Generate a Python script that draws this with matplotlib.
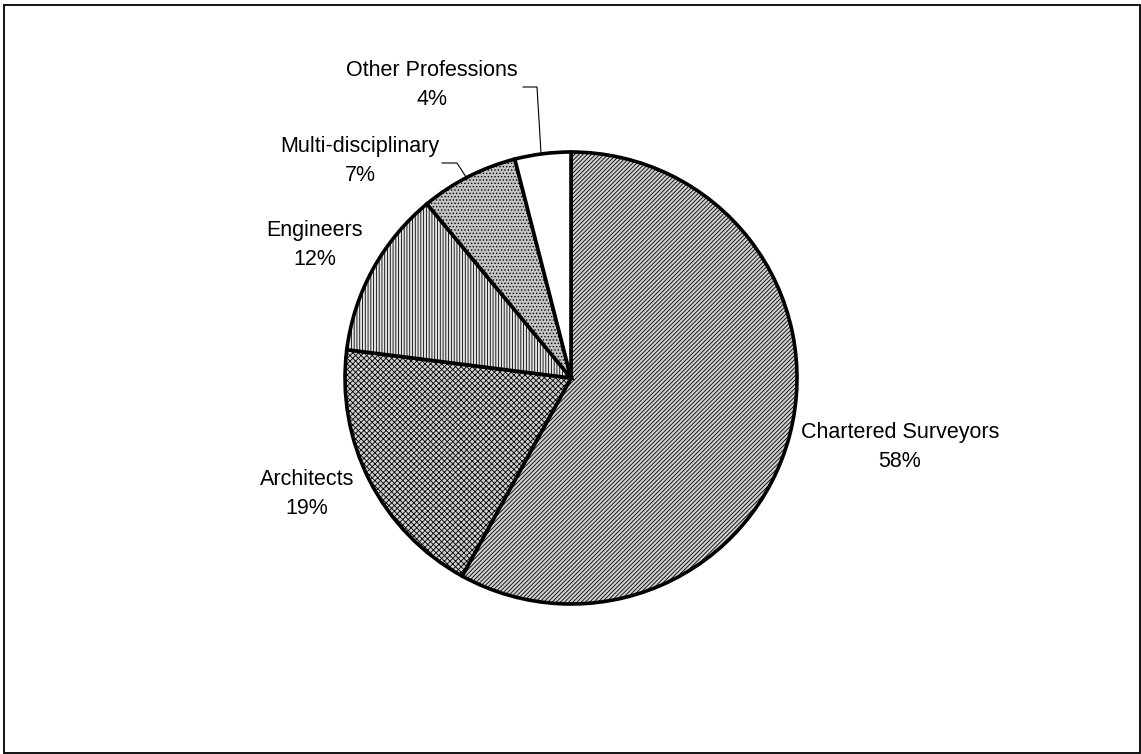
import matplotlib
matplotlib.use("Agg")
import matplotlib.pyplot as plt

categories = ["Chartered Surveyors", "Architects", "Engineers", "Multi-disciplinary", "Other Professions"]
values = [58, 19, 12, 7, 4]

W, H = 1141, 754
fig = plt.figure(figsize=(W / 100, H / 100), dpi=100)
ax = fig.add_axes([0, 0, 1, 1])
plt.rcParams['hatch.linewidth'] = 0.6

cx, cy, R = 571, H - 378, 226
hatches = ['/' * 8, 'x' * 6, '|' * 6, '.' * 5, '']
faces = ['#d0d0d0', '#d0d0d0', '#e6e6e6', '#c4c4c4', 'white']
wedges, _ = ax.pie(values, startangle=90, counterclock=False, center=(cx, cy), radius=R,
                   colors=faces, wedgeprops=dict(edgecolor='black', linewidth=2.6),
                   frame=True)
for w, h in zip(wedges, hatches):
    w.set_hatch(h)

label_pos = [(900, 447), (307, 494), (315, 245), (360, 161), (432, 85)]
for cat, v, (x, y) in zip(categories, values, label_pos):
    ax.text(x, H - y, f"{cat}\n{v}%", ha='center', va='center', fontsize=15.5,
            family='Liberation Sans', linespacing=1.5)

# leader lines
ax.plot([523, 537, 541], [H - 87, H - 87, H - 153], color='black', lw=0.8)
ax.plot([442, 457, 466], [H - 163, H - 163, H - 177], color='black', lw=0.8)

ax.set_xlim(0, W)
ax.set_ylim(0, H)
ax.set_aspect('auto')
ax.set_xticks([])
ax.set_yticks([])
for s in ax.spines.values():
    s.set_visible(False)

fig.patches.append(plt.Rectangle((4 / W, 1.5 / H), (1140 - 4) / W, (H - 6.5) / H,
                                 transform=fig.transFigure, fill=False,
                                 edgecolor='black', lw=1.3))
fig.savefig("out.png", dpi=100)
